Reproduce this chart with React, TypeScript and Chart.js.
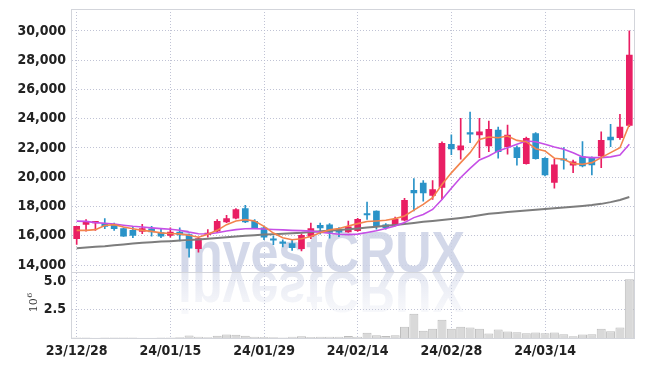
import React, { useEffect, useRef } from "react";
import { Chart, registerables } from "chart.js";

Chart.register(...registerables);

// ---- data ----
const DATES = [
  "23/12/28", "24/01/02", "24/01/03", "24/01/04", "24/01/05", "24/01/08", "24/01/09", "24/01/10", "24/01/11", "24/01/12",
  "24/01/15", "24/01/16", "24/01/17", "24/01/18", "24/01/19", "24/01/22", "24/01/23", "24/01/24", "24/01/25", "24/01/26",
  "24/01/29", "24/01/30", "24/01/31", "24/02/01", "24/02/02", "24/02/05", "24/02/06", "24/02/07", "24/02/08", "24/02/13",
  "24/02/14", "24/02/15", "24/02/16", "24/02/19", "24/02/20", "24/02/21", "24/02/22", "24/02/23", "24/02/26", "24/02/27",
  "24/02/28", "24/02/29", "24/03/04", "24/03/05", "24/03/06", "24/03/07", "24/03/08", "24/03/11", "24/03/12", "24/03/13",
  "24/03/14", "24/03/15", "24/03/18", "24/03/19", "24/03/20", "24/03/21", "24/03/22", "24/03/25", "24/03/26", "24/03/27",
];

const OPEN = [
  15800, 16770, 16880, 16830, 16710, 16490, 16370, 16300, 16480, 16210,
  16030, 16250, 16080, 15120, 16080, 16320, 16940, 17210, 17860, 16990,
  16550, 15740, 15520, 15460, 15120, 15960, 16710, 16740, 16450, 16270,
  16340, 17500, 17690, 16740, 16740, 17060, 19110, 19600, 18750, 19310,
  22250, 21860, 23050, 22890, 22140, 23230, 22090, 22020, 20930, 22980,
  21300, 19640, 21230, 20820, 21390, 21340, 21450, 22750, 22700, 23550,
];
const HIGH = [
  16650, 17100, 16940, 17170, 16870, 16550, 16640, 16780, 16640, 16490,
  16550, 16550, 16140, 15910, 16420, 17100, 17400, 17850, 18080, 17100,
  16640, 15960, 15730, 15730, 16140, 16870, 16870, 16830, 16560, 17010,
  17190, 18300, 17700, 16830, 17280, 18550, 19900, 19780, 19780, 22420,
  22900, 24020, 24450, 24020, 23840, 23430, 23570, 22140, 22750, 23050,
  21340, 21230, 22020, 21180, 22430, 21390, 23110, 23610, 24300, 30000,
];
const LOW = [
  15400, 16320, 16370, 16490, 16370, 15960, 15870, 16140, 15980, 15870,
  15910, 15650, 14540, 14880, 15910, 16210, 16900, 17150, 16900, 16500,
  15730, 15390, 15230, 15000, 14960, 15800, 16100, 15840, 15930, 16220,
  16290, 17120, 16450, 16450, 16670, 17010, 17690, 18370, 18480, 18480,
  21550, 21230, 22360, 21340, 21750, 21300, 21570, 20820, 20890, 21230,
  20090, 19250, 20550, 20320, 20700, 20160, 20660, 22090, 22590, 23450,
];
const CLOSE = [
  16640, 16990, 16900, 16640, 16490, 15980, 16030, 16490, 16260, 15980,
  16250, 16050, 15160, 15800, 16190, 16990, 17170, 17790, 16940, 16530,
  15910, 15690, 15480, 15190, 16030, 16490, 16530, 16220, 16250, 16610,
  17120, 17420, 16680, 16560, 17120, 18430, 18930, 18930, 19150, 22310,
  21930, 22140, 22950, 23110, 23270, 21750, 22890, 21340, 22660, 21270,
  20160, 20840, 21160, 21050, 20770, 20840, 22520, 22550, 23430, 28350,
];
// volume in millions of shares
const VOLUME = [
  0.05, 0.04, 0.03, 0.05, 0.04, 0.05, 0.04, 0.03, 0.03, 0.04,
  0.05, 0.06, 0.22, 0.12, 0.06, 0.2, 0.3, 0.28, 0.2, 0.1,
  0.08, 0.06, 0.05, 0.12, 0.15, 0.08, 0.1, 0.12, 0.1, 0.17,
  0.1, 0.47, 0.23, 0.17, 0.23, 0.98, 2.12, 0.63, 0.82, 1.6,
  0.82, 0.98, 0.92, 0.8, 0.4, 0.74, 0.57, 0.5, 0.42, 0.49,
  0.42, 0.49, 0.33, 0.15, 0.3, 0.32, 0.8, 0.59, 0.92, 5.15,
];
const MA_SHORT = [
  16370, 16370, 16420, 16700, 16760, 16600, 16480, 16370, 16300, 16200,
  16150, 16130, 16030, 15900, 16100, 16370, 16760, 17010, 17100, 17010,
  16640, 16185, 15870, 15730, 15800, 15950, 16200, 16400, 16490, 16670,
  16830, 16970, 17010, 17060, 17170, 17350, 17750, 18150, 18600, 19500,
  20300, 21000, 21680, 22590, 22750, 22700, 22820, 22520, 22430, 21950,
  21800, 21300, 21230, 20930, 20890, 21000, 21340, 21680, 22020, 23610,
];
const MA_MID = [
  17000, 16980, 16900, 16850, 16800, 16720, 16650, 16600, 16540, 16490,
  16450, 16380, 16250, 16140, 16120, 16200, 16330, 16420, 16480, 16490,
  16460, 16430, 16400, 16370, 16350, 16320, 16250, 16170, 16100, 16080,
  16110, 16220, 16340, 16490, 16670, 16900, 17240, 17460, 17800, 18480,
  19250, 19980, 20610, 21180, 21450, 21800, 22020, 22250, 22480, 22430,
  22250, 22070, 21910, 21680, 21390, 21340, 21340, 21390, 21520, 22250,
];
const MA_LONG = [
  15150, 15200, 15250, 15290, 15350, 15410, 15470, 15520, 15560, 15600,
  15630, 15670, 15710, 15750, 15800, 15850, 15900, 15950, 16000, 16040,
  16080, 16110, 16140, 16170, 16200, 16250, 16300, 16350, 16400, 16450,
  16500, 16560, 16620, 16680, 16740, 16810, 16880, 16950, 17010, 17070,
  17140, 17220, 17300, 17400, 17500, 17560, 17620, 17680, 17730, 17780,
  17830, 17880, 17930, 17980, 18040, 18100, 18180, 18300, 18450, 18650,
];
const PRICE_TICKS = [14000, 16000, 18000, 20000, 22000, 24000, 26000, 28000, 30000];
const VOLUME_TICKS = [2.5, 5.0];
const LABEL_EVERY = 10;

// ---- styles ----
const UP = "#e91e63";
const DOWN = "#2a93c8";
const GRID = "rgba(185,189,208,0.9)";
const FRAME = "#d3d5db";
const TICK_FONT = { family: "'Liberation Sans Narrow', 'DejaVu Sans Condensed', sans-serif", size: 14, weight: "bold" as const };

const candleColors = OPEN.map((o, i) => (CLOSE[i] >= o ? UP : DOWN));

const watermarkPlugin = {
  id: "watermark",
  beforeDatasetsDraw(chart: any) {
    const { ctx } = chart;
    const text = "investCRUX";
    const y = chart.scales.y;
    ctx.save();
    ctx.font = "bold 57px 'Liberation Sans', Arial, sans-serif";
    const w = ctx.measureText(text).width;
    const sx = 287 / w;
    const x0 = 170;
    const base = Math.round(y.bottom);
    ctx.translate(x0, base);
    ctx.scale(sx, 1);
    ctx.textBaseline = "alphabetic";
    ctx.fillStyle = "rgba(203,209,229,0.85)";
    ctx.fillText(text, 0, 0);
    ctx.scale(1, -1);
    const g = ctx.createLinearGradient(0, 0, 0, -44);
    g.addColorStop(0, "rgba(208,213,231,0.55)");
    g.addColorStop(1, "rgba(208,213,231,0.12)");
    ctx.fillStyle = g;
    ctx.fillText(text, 0, 0);
    ctx.restore();
  },
};

const framePlugin = {
  id: "frame",
  afterDatasetsDraw(chart: any) {
    const { ctx, chartArea } = chart;
    const y = chart.scales.y;
    const yv = chart.scales.yv;
    ctx.save();
    ctx.strokeStyle = FRAME;
    ctx.lineWidth = 1;
    const l = Math.round(chartArea.left) - 0.5;
    const r = Math.round(chartArea.right) + 0.5;
    ctx.strokeRect(l, Math.round(y.top) + 0.5, r - l, Math.round(y.bottom) - Math.round(y.top));
    ctx.strokeRect(l, Math.round(yv.top) + 0.5, r - l, Math.round(yv.bottom) - Math.round(yv.top));
    ctx.restore();
  },
  afterDraw(chart: any) {
    const { ctx } = chart;
    const yv = chart.scales.yv;
    const cy = (yv.top + yv.bottom) / 2;
    ctx.save();
    ctx.translate(29, cy + 7);
    ctx.rotate(-Math.PI / 2);
    ctx.fillStyle = "#333";
    ctx.textBaseline = "alphabetic";
    ctx.font = "11px 'DejaVu Serif', serif";
    ctx.fillText("10", 0, 0);
    const w = ctx.measureText("10").width;
    ctx.font = "8px 'DejaVu Serif', serif";
    ctx.fillText("6", w + 0.5, -5);
    ctx.restore();
  },
};

function fixY(width: number) {
  return (scale: any) => {
    scale.width = width;
    scale.paddingTop = 0;
    scale.paddingBottom = 0;
  };
}

export default function App() {
  const ref = useRef<HTMLCanvasElement | null>(null);

  useEffect(() => {
    if (!ref.current) return;
    const chart = new Chart(ref.current, {
      type: "bar",
      data: {
        labels: DATES,
        datasets: [
          {
            type: "line",
            label: "MA short",
            data: MA_SHORT,
            yAxisID: "y",
            borderColor: "#f3844d",
            borderWidth: 1.6,
            pointRadius: 0,
            fill: false,
            order: 1,
          },
          {
            type: "line",
            label: "MA mid",
            data: MA_MID,
            yAxisID: "y",
            borderColor: "#c64fe6",
            borderWidth: 1.6,
            pointRadius: 0,
            fill: false,
            order: 1.5,
          },
          {
            type: "line",
            label: "MA long",
            data: MA_LONG,
            yAxisID: "y",
            borderColor: "#7d7d7d",
            borderWidth: 2,
            pointRadius: 0,
            fill: false,
            order: 2,
          },
          {
            type: "bar",
            label: "body",
            data: OPEN.map((o, i) => [o, CLOSE[i]]) as any,
            yAxisID: "y",
            backgroundColor: candleColors,
            barThickness: 6,
            minBarLength: 1.5,
            grouped: false,
            order: 3,
          },
          {
            type: "bar",
            label: "wick",
            data: LOW.map((l, i) => [l, HIGH[i]]) as any,
            yAxisID: "y",
            backgroundColor: candleColors,
            barThickness: 1,
            grouped: false,
            order: 4,
          },
          {
            type: "bar",
            label: "volume",
            data: VOLUME,
            yAxisID: "yv",
            backgroundColor: "#d9d9d9",
            borderColor: "#bdbdbd",
            borderWidth: 1,
            barPercentage: 0.96,
            categoryPercentage: 1,
            grouped: false,
            order: 5,
          },
        ] as any,
      },
      options: {
        animation: false,
        responsive: true,
        maintainAspectRatio: false,
        layout: { padding: { left: 0, right: 3, top: 1, bottom: 0 } },
        plugins: { legend: { display: false }, tooltip: { enabled: false } },
        scales: {
          x: {
            type: "category",
            offset: true,
            grid: {
              offset: false,
              drawTicks: false,
              color: (c: any) => (c.index % LABEL_EVERY === 0 ? GRID : "rgba(0,0,0,0)"),
            },
            border: { display: false, dash: [1, 2] },
            ticks: {
              autoSkip: false,
              maxRotation: 0,
              padding: 5,
              color: "#222",
              font: TICK_FONT,
              callback: (_v: any, i: number) => (i % LABEL_EVERY === 0 ? DATES[i] : ""),
            },
            afterFit: (scale: any) => {
              scale.height = 28;
              scale.paddingLeft = 0;
              scale.paddingRight = 0;
            },
          },
          yv: {
            type: "linear",
            position: "left",
            stack: "panel",
            stackWeight: 1,
            min: 0,
            max: 5.75,
            grid: { drawTicks: false, color: GRID },
            border: { display: false, dash: [1, 2] },
            afterBuildTicks: (scale: any) => {
              scale.ticks = VOLUME_TICKS.map((v) => ({ value: v }));
            },
            ticks: {
              autoSkip: false,
              padding: 6,
              color: "#222",
              font: TICK_FONT,
              callback: (v: any) => Number(v).toFixed(1),
            },
            afterFit: fixY(64),
          },
          y: {
            type: "linear",
            position: "left",
            stack: "panel",
            stackWeight: 4.01,
            min: 13500,
            max: 31500,
            grid: { drawTicks: false, color: GRID },
            border: { display: false, dash: [1, 2] },
            afterBuildTicks: (scale: any) => {
              scale.ticks = PRICE_TICKS.map((v) => ({ value: v }));
            },
            ticks: {
              autoSkip: false,
              padding: 6,
              color: "#222",
              font: TICK_FONT,
              callback: (v: any) => Number(v).toLocaleString("en-US"),
            },
            afterFit: fixY(64),
          },
        },
      } as any,
      plugins: [watermarkPlugin, framePlugin],
    });
    return () => chart.destroy();
  }, []);

  return (
    <div style={{ position: "relative", width: "629px", height: "358px" }}>
      <canvas ref={ref} />
    </div>
  );
}
